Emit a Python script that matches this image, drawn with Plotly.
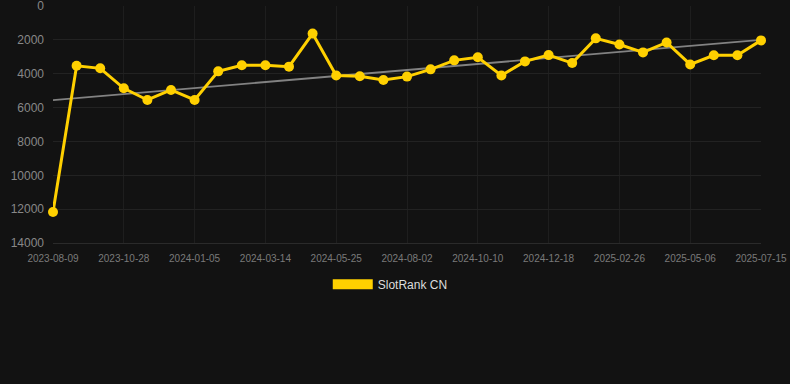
import numpy as np
import plotly.graph_objects as go

dates = [
    "2023-08-09", "2023-09-04", "2023-10-01", "2023-10-28", "2023-11-20", "2023-12-13",
    "2024-01-05", "2024-01-28", "2024-02-20", "2024-03-14", "2024-04-07", "2024-05-01",
    "2024-05-25", "2024-06-17", "2024-07-10", "2024-08-02", "2024-08-25", "2024-09-17",
    "2024-10-10", "2024-11-02", "2024-11-25", "2024-12-18", "2025-01-10", "2025-02-03",
    "2025-02-26", "2025-03-21", "2025-04-13", "2025-05-06", "2025-05-29", "2025-06-21",
    "2025-07-15",
]
ranks = [
    12170, 3530, 3680, 4860, 5550, 4960, 5550, 3860, 3500, 3500, 3580, 1630,
    4100, 4150, 4370, 4170, 3740, 3210, 3030, 4100, 3270, 2900, 3370, 1910,
    2270, 2740, 2150, 3450, 2910, 2910, 2030,
]
tick_labels = dates[::3]
y_ticks = [0, 2000, 4000, 6000, 8000, 10000, 12000, 14000]
series_name = "SlotRank CN"

idx = np.arange(len(ranks))
coef = np.polyfit(idx, ranks, 1)
trend = np.polyval(coef, idx)

BG = "#121212"
GOLD = "#FFD000"

fig = go.Figure()
fig.add_trace(go.Scatter(
    x=[dates[0], dates[-1]], y=[trend[0], trend[-1]], mode="lines",
    line=dict(color="#828282", width=1.8), showlegend=False, hoverinfo="skip",
))
fig.add_trace(go.Scatter(
    x=dates, y=ranks, mode="lines+markers", name=series_name,
    line=dict(color=GOLD, width=3), marker=dict(color=GOLD, size=10),
    cliponaxis=False, showlegend=False,
))
fig.add_trace(go.Scatter(
    x=[None], y=[None], mode="lines", name=series_name,
    line=dict(color=GOLD, width=11), showlegend=True,
))

fig.update_layout(
    width=790, height=384,
    margin=dict(l=53, r=29, t=6, b=141, autoexpand=False),
    paper_bgcolor=BG, plot_bgcolor=BG,
    font=dict(family="Liberation Sans, Arial, sans-serif", color="#888888"),
    showlegend=True,
    legend=dict(
        orientation="h", x=0.494, xref="container", xanchor="center",
        y=0.26, yref="container", yanchor="middle",
        font=dict(size=12, color="#dddddd"), itemwidth=40,
        bgcolor="rgba(0,0,0,0)",
    ),
    xaxis=dict(
        type="category", categoryorder="array", categoryarray=dates,
        range=[0, len(dates) - 1], automargin=False,
        tickmode="array", tickvals=tick_labels, ticktext=tick_labels,
        tickfont=dict(size=10, color="#7a7a7a"), ticklabeloverflow="allow",
        showgrid=True, gridcolor="#1e1e1e", gridwidth=1,
        ticks="outside", ticklen=6, tickcolor=BG,
        showline=True, linecolor="#2a2a2a", linewidth=1,
        zeroline=False,
    ),
    yaxis=dict(
        range=[14000, -2], tickmode="array", tickvals=y_ticks,
        ticktext=[str(v) for v in y_ticks], automargin=False,
        tickfont=dict(size=12, color="#888888"), ticklabeloverflow="allow",
        showgrid=True, gridcolor="#222222", gridwidth=1,
        zeroline=False, ticklabelstandoff=8,
    ),
)

fig.write_html(
    "out.html",
    config={"displayModeBar": False},
    post_script="document.body.style.margin='0';document.body.style.overflow='hidden';document.body.style.background='#121212';",
)
